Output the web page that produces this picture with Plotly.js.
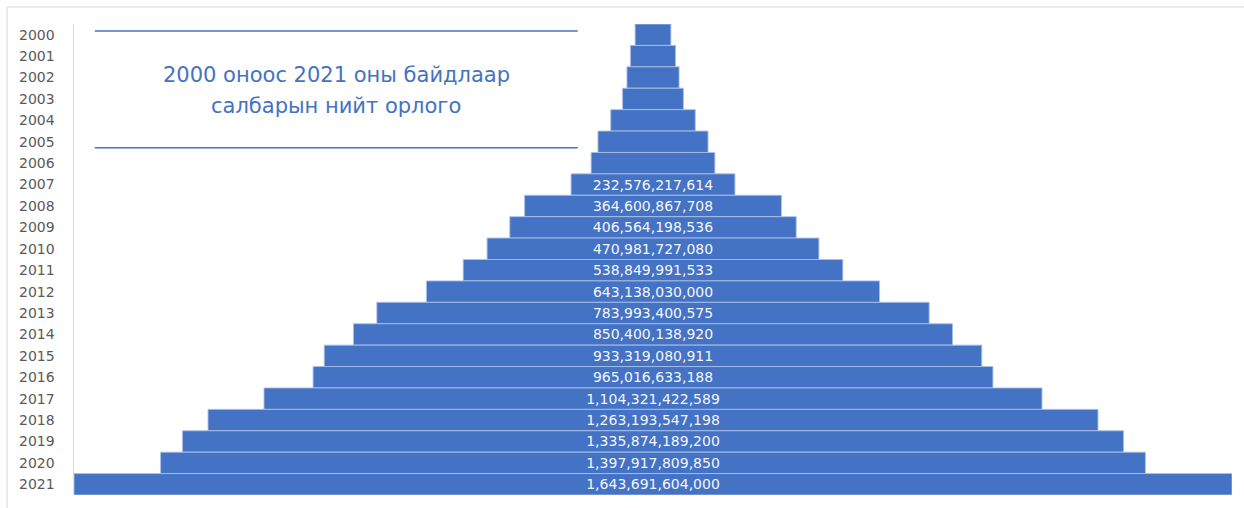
<!DOCTYPE html>
<html>
<head>
<meta charset="utf-8">
<script src="https://cdn.plot.ly/plotly-3.0.1.min.js"></script>
<style>html,body{margin:0;padding:0;background:#fff;}#chart{width:1244px;height:508px;}</style>
</head>
<body>
<div id="chart"></div>
<script>
const years = ['2000','2001','2002','2003','2004','2005','2006','2007','2008','2009','2010','2011','2012','2013','2014','2015','2016','2017','2018','2019','2020','2021'];
// 2000-2006 are unlabeled in the reference
const revenue = [50800000000, 64100000000, 74000000000, 86400000000, 120000000000, 156200000000, 175600000000,
  232576217614, 364600867708, 406564198536, 470981727080, 538849991533, 643138030000, 783993400575,
  850400138920, 933319080911, 965016633188, 1104321422589, 1263193547198, 1335874189200, 1397917809850, 1643691604000];
const showLabel = [false,false,false,false,false,false,false,true,true,true,true,true,true,true,true,true,true,true,true,true,true,true];
const titleLines = ['2000 оноос 2021 оны байдлаар', 'салбарын нийт орлого'];

const maxV = Math.max(...revenue);
const templates = showLabel.map(s => s ? '%{x:,.0f}' : '');

const trace = {
  type: 'funnel',
  orientation: 'h',
  y: years,
  x: revenue,
  texttemplate: templates,
  textposition: 'inside',
  insidetextanchor: 'middle',
  textfont: {family: 'DejaVu Sans, sans-serif', size: 14, color: '#F4F6FB'},
  constraintext: 'none',
  marker: {color: '#4472C4', line: {color: 'rgba(170,192,230,0.9)', width: 1}},
  connector: {visible: false},
  hoverinfo: 'x+y'
};

const titleY = [0.892, 0.826];

const layout = {
  width: 1244, height: 508,
  margin: {l: 74, r: 12, t: 24, b: 13},
  paper_bgcolor: '#FFFFFF', plot_bgcolor: '#FFFFFF',
  showlegend: false,
  funnelgap: 0,
  xaxis: {range: [-maxV/2, maxV/2], visible: false, fixedrange: true},
  yaxis: {
    type: 'category', categoryorder: 'array', categoryarray: years,
    autorange: 'reversed',
    showline: true, linecolor: '#D9D9D9', linewidth: 1.5,
    showgrid: false, zeroline: false, ticks: '',
    ticklabelstandoff: 15,
    tickfont: {family: 'DejaVu Sans, sans-serif', size: 14, color: '#595959'}
  },
  shapes: [
    {type: 'rect', xref: 'paper', yref: 'paper', x0: -0.0578, x1: 1.2, y0: -0.2, y1: 1.036,
     line: {color: '#D9D9D9', width: 1}, fillcolor: 'rgba(0,0,0,0)', layer: 'below'},
    {type: 'line', xref: 'paper', yref: 'paper', x0: 0.018, x1: 0.435, y0: 0.985, y1: 0.985,
     line: {color: '#4472C4', width: 1.5}},
    {type: 'line', xref: 'paper', yref: 'paper', x0: 0.018, x1: 0.435, y0: 0.737, y1: 0.737,
     line: {color: '#4472C4', width: 1.5}}
  ],
  annotations: titleLines.map((t, i) => ({
    xref: 'paper', yref: 'paper', x: 0.2265, y: titleY[i], xanchor: 'center', yanchor: 'middle',
    text: t, showarrow: false, align: 'center',
    font: {family: 'DejaVu Sans, sans-serif', size: 21, color: '#4472C4'}
  }))
};

Plotly.newPlot('chart', [trace], layout, {displayModeBar: false, staticPlot: true});
</script>
</body>
</html>
